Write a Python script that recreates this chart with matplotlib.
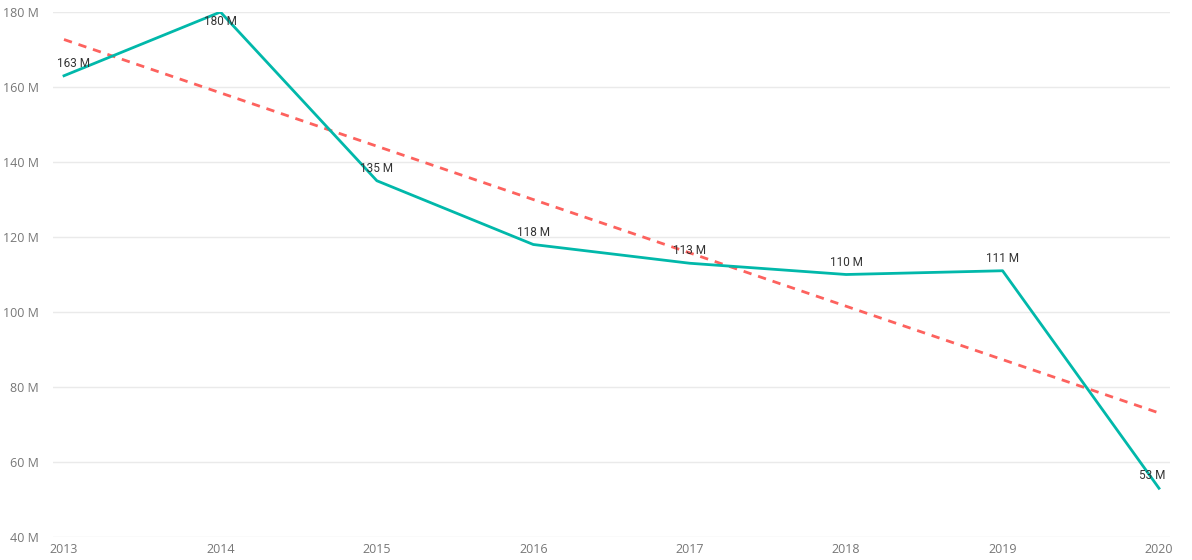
import matplotlib
matplotlib.use("Agg")
import matplotlib.pyplot as plt
import numpy as np
from matplotlib.ticker import FuncFormatter

years = ["2013", "2014", "2015", "2016", "2017", "2018", "2019", "2020"]
values = [163, 180, 135, 118, 113, 110, 111, 53]  # millions
labels = ["163 M", "180 M", "135 M", "118 M", "113 M", "110 M", "111 M", "53 M"]
y_ticks = [40, 60, 80, 100, 120, 140, 160, 180]

fig = plt.figure(figsize=(11.92, 5.6), dpi=100)
ax = fig.add_axes([53 / 1192, 1 - 537 / 560, (1170 - 53) / 1192, (537 - 12) / 560])

x = np.arange(len(years))
ax.plot(x, values, color="#01B8AA", lw=2.0, zorder=3, solid_joinstyle="round")

# linear trend line (least-squares fit of the series)
coef = np.polyfit(x, values, 1)
ax.plot(x, np.polyval(coef, x), color="#FD625E", lw=2.0, ls=(0, (3, 2.5)), zorder=2)

ax.set_xlim(-11 / 156.4, len(years) - 1 + 11 / 156.4)
ax.set_ylim(40, 180)
ax.set_yticks(y_ticks)
ax.yaxis.set_major_formatter(FuncFormatter(lambda v, p: f"{int(v)} M"))
ax.set_xticks(x)
ax.set_xticklabels(years)

for s in ax.spines.values():
    s.set_visible(False)
ax.grid(axis="y", color="#EAEAEA", lw=1.0)
ax.set_axisbelow(True)
ax.tick_params(axis="both", length=0, colors="#777777", labelsize=9)
ax.tick_params(axis="y", pad=10)
ax.tick_params(axis="x", pad=4)
for t in ax.get_xticklabels() + ax.get_yticklabels():
    t.set_fontfamily("Open Sans")

n = len(values)
for i, (v, lab) in enumerate(zip(values, labels)):
    dy = 9
    va = "center"
    if v > 176:
        dy = -2
        va = "top"
    dx = 0
    if i == 0:
        dx = 7
    elif i == n - 1:
        dx = -5
    ax.annotate(lab, (i, v), xytext=(dx, dy), textcoords="offset points",
                ha="center", va=va,
                fontsize=8.5, color="#333333", fontfamily="Roboto",
                zorder=4, annotation_clip=False)

fig.savefig("out.png", dpi=100)
